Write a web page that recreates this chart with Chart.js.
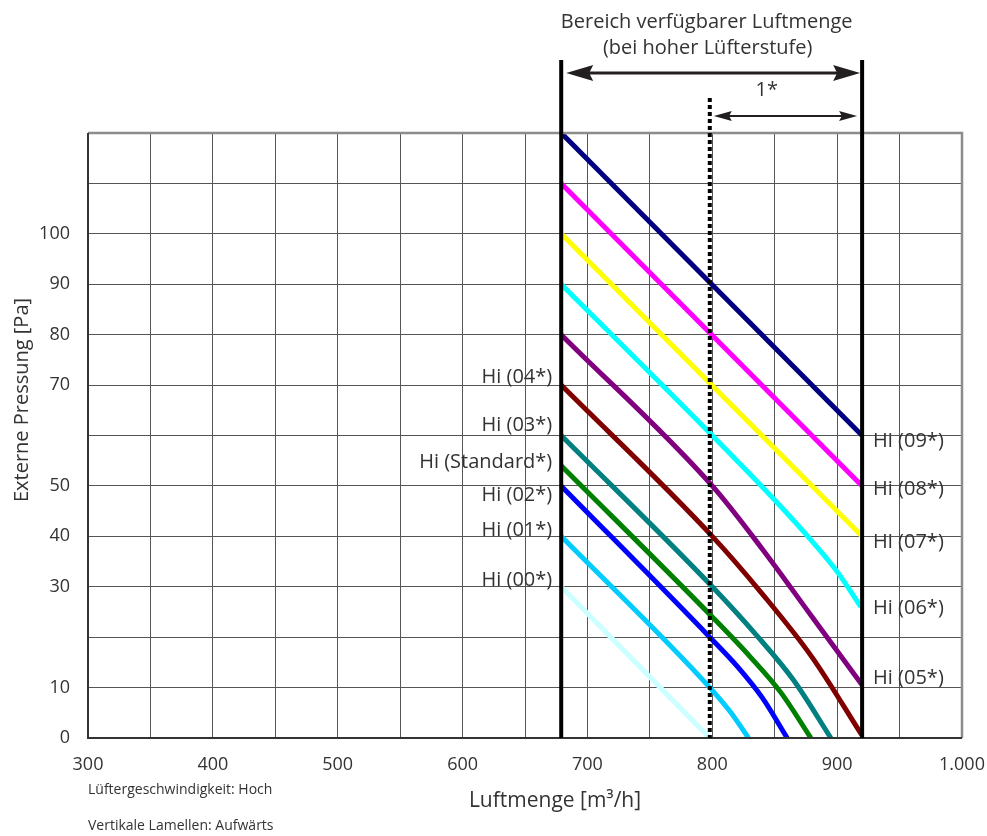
<!DOCTYPE html>
<html lang="de">
<head>
<meta charset="utf-8">
<title>Luftmenge / Externe Pressung</title>
<script src="https://cdn.jsdelivr.net/npm/chart.js@4.4.1/dist/chart.umd.min.js"></script>
<style>
  html, body { margin: 0; padding: 0; background: #fff; }
</style>
</head>
<body>
<canvas id="chart" width="987" height="836"></canvas>
<script>
// Kennlinien: [Luftmenge m³/h, Pressung Pa]
const hi09 = [[679, 120], [920, 60]];
const hi08 = [[679, 110], [920, 50]];
const hi07 = [[679, 100], [920, 40]];
const hi06 = [[679, 90], [800, 60], [850, 47.2], [880, 39], [900, 33], [919, 26]];
const hi05 = [[679, 80], [800, 50], [840, 37.5], [880, 24], [920, 10.5]];
const hi04 = [[679, 70], [800, 40], [840, 28.6], [880, 16], [920, 0.5]];
const hi03 = [[679, 60], [800, 30], [835, 20.5], [865, 11.5], [895, 0]];
const hiStd = [[679, 54], [800, 24], [830, 16.2], [855, 9], [879, 0]];
const hi02 = [[679, 50], [798, 20], [820, 14.2], [840, 8], [860, 0]];
const hi01 = [[679, 40], [798, 10], [815, 5], [829, 0]];
const hi00 = [[679, 30], [798, 0]];

const seriesData = [hi09, hi08, hi07, hi06, hi05, hi04, hi03, hiStd, hi02, hi01, hi00];
const seriesColors = ['#000080', '#ff00ff', '#ffff00', '#00ffff', '#800080', '#800000',
                      '#008080', '#008000', '#0000ff', '#00ccff', '#ccffff'];

// Beschriftungen und ihre Höhe in Pa
const rightLabels = ['Hi (09*)', 'Hi (08*)', 'Hi (07*)', 'Hi (06*)', 'Hi (05*)'];
const rightLabelAt = [58.8, 49.3, 38.9, 25.7, 11.8];
const leftLabels = ['Hi (04*)', 'Hi (03*)', 'Hi (Standard*)', 'Hi (02*)', 'Hi (01*)', 'Hi (00*)'];
const leftLabelAt = [71.6, 62.1, 54.6, 48.2, 41.1, 31.2];

// Bereich verfügbarer Luftmenge
const rangeMin = 679;
const rangeMax = 920;
const rangeMark = 798;

// Achsen
const xTicks = [300, 400, 500, 600, 700, 800, 900, 1000];
const xTickLabels = ['300', '400', '500', '600', '700', '800', '900', '1.000'];
const yTickLabels = [0, 10, 30, 40, 50, 70, 80, 90, 100];

const FONT = "'Open Sans', 'Noto Sans', sans-serif";
const TEXT = '#333333';

function arrowHead(ctx, tipX, y, dir, len, half) {
  ctx.beginPath();
  ctx.moveTo(tipX, y);
  ctx.lineTo(tipX + dir * len, y - half);
  ctx.lineTo(tipX + dir * len * 0.85, y);
  ctx.lineTo(tipX + dir * len, y + half);
  ctx.closePath();
  ctx.fill();
}

function doubleArrow(ctx, x1, x2, y, lw, len, half) {
  ctx.lineWidth = lw;
  ctx.beginPath();
  ctx.moveTo(x1 + len * 0.8, y);
  ctx.lineTo(x2 - len * 0.8, y);
  ctx.stroke();
  arrowHead(ctx, x1, y, 1, len, half);
  arrowHead(ctx, x2, y, -1, len, half);
}

const overlay = {
  id: 'overlay',
  afterDatasetsDraw(chart) {
    const { ctx, chartArea: a, scales: { x, y } } = chart;
    const xL = x.getPixelForValue(rangeMin);
    const xR = x.getPixelForValue(rangeMax);
    const xD = x.getPixelForValue(rangeMark);
    ctx.save();

    // Rahmen
    ctx.lineWidth = 2.5;
    ctx.strokeStyle = '#8c8c8c';
    ctx.beginPath();
    ctx.moveTo(a.left, a.top); ctx.lineTo(a.right, a.top); ctx.lineTo(a.right, a.bottom);
    ctx.stroke();
    ctx.lineWidth = 2;
    ctx.strokeStyle = '#333';
    ctx.beginPath();
    ctx.moveTo(a.left, a.top); ctx.lineTo(a.left, a.bottom); ctx.lineTo(a.right, a.bottom);
    ctx.stroke();

    // Bereichsgrenzen
    ctx.strokeStyle = '#000';
    ctx.fillStyle = '#000';
    ctx.lineWidth = 4;
    ctx.beginPath();
    ctx.moveTo(xL, 60); ctx.lineTo(xL, a.bottom);
    ctx.moveTo(xR, 60); ctx.lineTo(xR, a.bottom);
    ctx.stroke();
    ctx.setLineDash([4, 3]);
    ctx.lineWidth = 4;
    ctx.beginPath();
    ctx.moveTo(xD, 98); ctx.lineTo(xD, a.bottom);
    ctx.stroke();
    ctx.setLineDash([]);

    ctx.strokeStyle = '#231f20';
    ctx.fillStyle = '#231f20';
    doubleArrow(ctx, xL + 5, xR - 2, 73, 3, 27, 8);
    doubleArrow(ctx, xD + 4, xR - 5, 116, 2, 18, 5);

    // Texte
    ctx.fillStyle = TEXT;
    ctx.textBaseline = 'middle';
    ctx.textAlign = 'center';
    ctx.font = '20px ' + FONT;
    ctx.fillText('Bereich verfügbarer Luftmenge', (xL + xR) / 2 - 5, 22);
    ctx.fillText('(bei hoher Lüfterstufe)', (xL + xR) / 2 - 4, 48);
    ctx.fillText('1*', xD + 57, 90);

    ctx.textAlign = 'left';
    rightLabels.forEach((t, i) => ctx.fillText(t, xR + 11, y.getPixelForValue(rightLabelAt[i])));
    ctx.textAlign = 'right';
    leftLabels.forEach((t, i) => ctx.fillText(t, xL - 9, y.getPixelForValue(leftLabelAt[i])));

    ctx.textAlign = 'center';
    ctx.font = '21px ' + FONT;
    ctx.fillText('Luftmenge [m³/h]', 555, 801);
    ctx.save();
    ctx.translate(22, 400);
    ctx.rotate(-Math.PI / 2);
    ctx.font = '20px ' + FONT;
    ctx.fillText('Externe Pressung [Pa]', 0, 0);
    ctx.restore();

    ctx.textAlign = 'left';
    ctx.font = '14px ' + FONT;
    ctx.fillText('Lüftergeschwindigkeit: Hoch', a.left, 790);
    ctx.fillText('Vertikale Lamellen: Aufwärts', a.left, 826);

    ctx.restore();
  }
};

new Chart(document.getElementById('chart'), {
  type: 'line',
  data: {
    datasets: seriesData.map((pts, i) => ({
      data: pts.map(([px, py]) => ({ x: px, y: py })),
      borderColor: seriesColors[i],
      borderWidth: 5,
      borderCapStyle: 'butt',
      pointRadius: 0,
      cubicInterpolationMode: 'monotone',
      fill: false
    }))
  },
  options: {
    responsive: false,
    animation: false,
    layout: { padding: { top: 133, right: 25, left: 0, bottom: 0 } },
    plugins: { legend: { display: false }, tooltip: { enabled: false } },
    scales: {
      x: {
        type: 'linear',
        min: 300,
        max: 1000,
        afterFit: s => { s.height = 98; s.paddingRight = 0; s.paddingLeft = 0; },
        afterBuildTicks: s => {
          s.ticks = [];
          for (let v = 300; v <= 1000; v += 50) s.ticks.push({ value: v });
        },
        border: { display: false },
        grid: { color: '#555', lineWidth: 1, drawTicks: false },
        ticks: {
          autoSkip: false,
          maxRotation: 0,
          padding: 16,
          color: TEXT,
          font: { family: FONT, size: 18 },
          callback: v => {
            const i = xTicks.indexOf(v);
            return i >= 0 ? xTickLabels[i] : '';
          }
        }
      },
      y: {
        min: 0,
        max: 120,
        afterFit: s => { s.width = 88; },
        border: { display: false },
        grid: { color: '#555', lineWidth: 1, drawTicks: false },
        ticks: {
          stepSize: 10,
          padding: 18,
          color: TEXT,
          font: { family: FONT, size: 18 },
          callback: v => (yTickLabels.includes(v) ? String(v) : '')
        }
      }
    }
  },
  plugins: [overlay]
});
</script>
</body>
</html>
